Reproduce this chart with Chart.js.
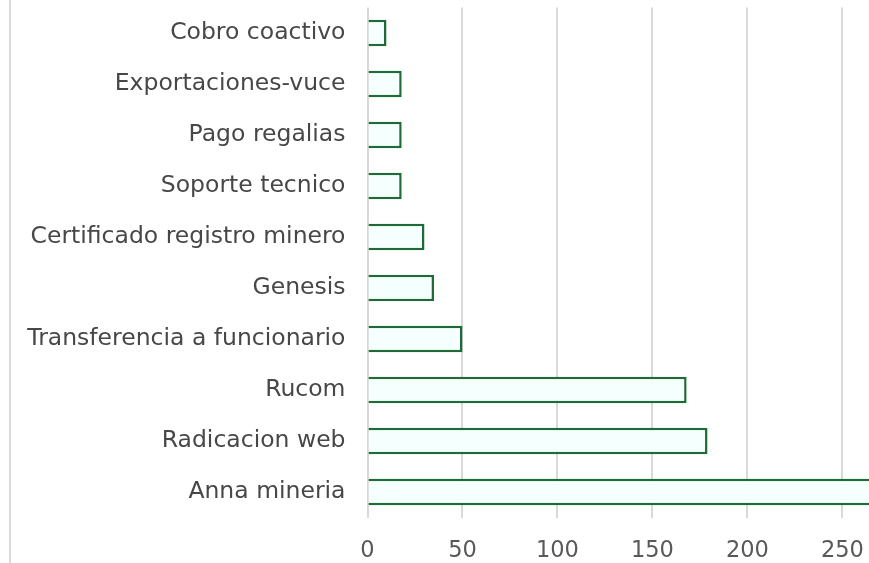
<!DOCTYPE html>
<html><head><meta charset="utf-8">
<script src="https://cdn.jsdelivr.net/npm/chart.js@4/dist/chart.umd.min.js"></script>
<style>
html,body{margin:0;padding:0;background:#fff;}
#wrap{position:relative;width:869px;height:563px;}
#edge{position:absolute;left:9px;top:0;width:2px;height:563px;background:#d9d9d9;}
canvas{position:absolute;left:0;top:0;}
</style></head><body>
<div id="wrap"><div id="edge"></div><canvas id="c" width="869" height="563"></canvas></div>
<script>
const categories = ["Cobro coactivo","Exportaciones-vuce","Pago regalias","Soporte tecnico","Certificado registro minero","Genesis","Transferencia a funcionario","Rucom","Radicacion web","Anna mineria"];
const values = [10,18,18,18,30,35,50,168,179,275];
const xTicks = [0,50,100,150,200,250];

new Chart(document.getElementById('c'), {
  type: 'bar',
  data: { labels: categories, datasets: [{ data: values, backgroundColor: '#f5fffd', borderColor: '#1d6b36', borderWidth: 2.5, borderSkipped: 'start', barPercentage: 0.52, categoryPercentage: 1 }] },
  options: {
    indexAxis: 'y', responsive: false, animation: false,
    layout: { padding: { top: 7.5, right: 0, left: 0, bottom: 0 } },
    plugins: { legend: { display: false }, tooltip: { enabled: false } },
    scales: {
      x: { min: 0, max: 264, afterBuildTicks: s => { s.ticks = xTicks.map(v => ({ value: v })); },
        grid: { color: '#d9d9d9', lineWidth: 2, drawTicks: false }, border: { display: false },
        ticks: { color: '#595959', font: { family: 'DejaVu Sans', size: 22.5 }, padding: 20 },
        afterFit: s => { s.height = 45.5; s.paddingLeft = 0; s.paddingRight = 0; } },
      y: { grid: { display: false, drawTicks: false }, border: { display: false },
        ticks: { color: '#474747', font: { family: 'DejaVu Sans', size: 23.5 }, padding: 22 },
        afterFit: s => { s.width = 367.5; s.paddingTop = 0; s.paddingBottom = 0; } }
    }
  }
});
</script></body></html>
